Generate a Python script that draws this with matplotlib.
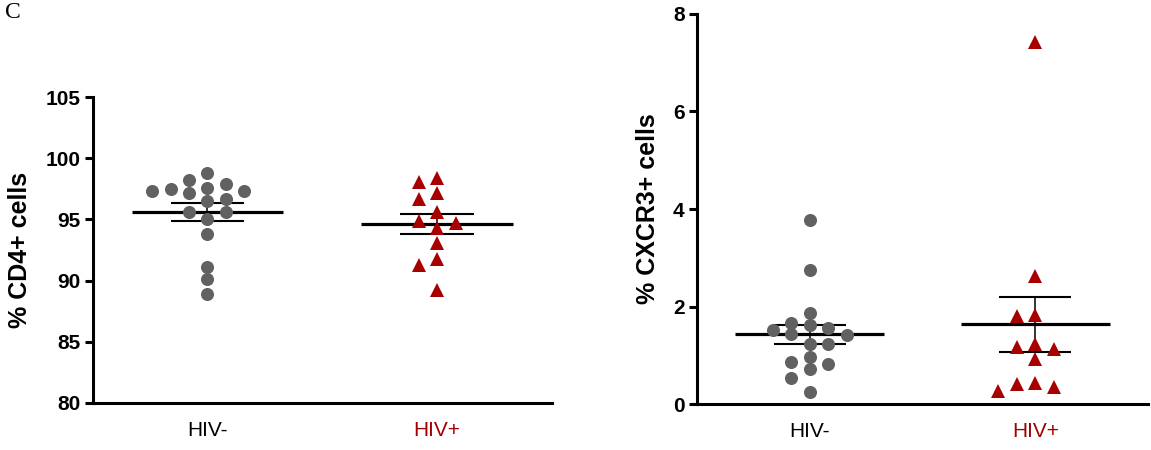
import numpy as np
import matplotlib
matplotlib.use("Agg")
import matplotlib.pyplot as plt

# ---- data -------------------------------------------------------------
groups = ["HIV-", "HIV+"]

cd4_neg = [98.8, 98.2, 97.9, 97.6, 97.5, 97.3, 97.3, 97.2, 96.7, 96.5,
           95.6, 95.6, 95.0, 93.8, 91.1, 90.1, 88.9]
cd4_pos = [98.4, 98.1, 97.2, 96.7, 95.6, 94.9, 94.7, 94.3, 93.1, 91.8,
           91.3, 89.2]

cxcr3_neg = [3.77, 2.75, 1.87, 1.67, 1.62, 1.55, 1.52, 1.43, 1.42, 1.24,
             1.24, 0.97, 0.87, 0.83, 0.72, 0.53, 0.25]
cxcr3_pos = [7.43, 2.63, 1.83, 1.81, 1.24, 1.16, 1.13, 0.92, 0.44, 0.41,
             0.35, 0.27]

cd4_ticks = [80, 85, 90, 95, 100, 105]
cxcr3_ticks = [0, 2, 4, 6, 8]

# ---- style ------------------------------------------------------------
plt.rcParams["font.family"] = ["Liberation Sans", "DejaVu Sans"]
GREY = "#616161"
RED = "#A80000"
LABEL_RED = "#A00000"

fig = plt.figure(figsize=(11.51, 4.5), dpi=100)
ax1 = fig.add_axes([0.0805, 0.1051, 0.3991, 0.6787])
ax2 = fig.add_axes([0.6056, 0.1022, 0.3918, 0.8667])


def swarm_offsets(ax, values, lane_px=18.4, min_gap_px=11.0):
    """Place points in vertical lanes so that markers in one lane keep apart."""
    bbox = ax.get_window_extent()
    y0, y1 = ax.get_ylim()
    x0, x1 = ax.get_xlim()
    py_per_unit = bbox.height / (y1 - y0)
    px_per_unit = bbox.width / (x1 - x0)
    lanes = {}
    order = np.argsort(values)[::-1]
    result = np.zeros(len(values))
    cands = [0]
    for n in range(1, 20):
        cands += [-n, n]
    for i in order:
        v = values[i] * py_per_unit
        for lane in cands:
            if all(abs(v - u) >= min_gap_px for u in lanes.get(lane, [])):
                lanes.setdefault(lane, []).append(v)
                result[i] = lane * lane_px / px_per_unit
                break
    return result


def draw_panel(ax, series, markers, colors, ylim, ticks, ylabel, label_x):
    ax.set_xlim(0.5, 2.5)
    ax.set_ylim(*ylim)
    for pos, (vals, mk, col) in enumerate(zip(series, markers, colors), start=1):
        vals = np.asarray(vals, dtype=float)
        mean = vals.mean()
        sem = vals.std(ddof=1) / np.sqrt(len(vals))
        ax.hlines(mean, pos - 0.33, pos + 0.33, color="black", lw=2.3, zorder=2)
        ax.hlines([mean - sem, mean + sem], pos - 0.16, pos + 0.16,
                  color="black", lw=1.5, zorder=2)
        ax.vlines(pos, mean - sem, mean + sem, color="black", lw=1.1, zorder=2)
        off = swarm_offsets(ax, vals)
        ax.plot(pos + off, vals, linestyle="none", marker=mk, ms=9.4,
                color=col, markeredgewidth=0, zorder=3, clip_on=False)

    for side in ("top", "right"):
        ax.spines[side].set_visible(False)
    for side in ("left", "bottom"):
        ax.spines[side].set_linewidth(2.2)
    ax.set_yticks(ticks)
    ax.tick_params(axis="y", length=6, width=2.2, pad=3, labelsize=15)
    for t in ax.get_yticklabels():
        t.set_fontweight("bold")
    ax.set_xticks([1, 2])
    ax.set_xticklabels(groups, fontsize=15)
    ax.tick_params(axis="x", length=0, pad=13)
    ax.get_xticklabels()[1].set_color(LABEL_RED)
    ax.set_ylabel(ylabel, fontsize=18, fontweight="bold")
    ax.yaxis.set_label_coords(label_x, 0.5)


draw_panel(ax1, [cd4_neg, cd4_pos], ["o", "^"], [GREY, RED],
           (80, 105), cd4_ticks, "% CD4+ cells", -0.132)
draw_panel(ax2, [cxcr3_neg, cxcr3_pos], ["o", "^"], [GREY, RED],
           (0, 8), cxcr3_ticks, "% CXCR3+ cells", -0.082)

fig.text(0.004, 0.995, "C", family=["Liberation Serif", "DejaVu Serif"],
         fontsize=17, ha="left", va="top")

fig.savefig("out.png", dpi=100)
